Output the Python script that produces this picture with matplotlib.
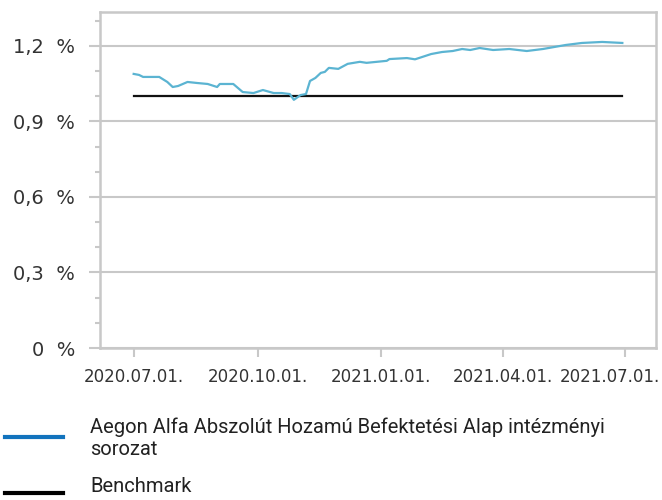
import matplotlib
matplotlib.use("Agg")
import numpy as np
import pandas as pd
import matplotlib.pyplot as plt
import matplotlib.transforms as mtransforms
from matplotlib.lines import Line2D

plt.rcParams["font.family"] = ["DejaVu Sans"]

# napi hozam adatok (leolvasva)
dates = ["2020-07-01", "2020-07-05", "2020-07-08", "2020-07-20", "2020-07-26",
         "2020-07-30", "2020-08-03", "2020-08-10", "2020-08-17", "2020-08-25",
         "2020-09-01", "2020-09-03", "2020-09-13", "2020-09-20", "2020-09-28",
         "2020-10-05", "2020-10-13", "2020-10-19", "2020-10-25", "2020-10-28",
         "2020-11-02", "2020-11-06", "2020-11-09", "2020-11-13", "2020-11-17",
         "2020-11-20", "2020-11-23", "2020-11-30", "2020-12-07", "2020-12-16",
         "2020-12-21", "2021-01-05", "2021-01-07", "2021-01-20", "2021-01-26",
         "2021-02-07", "2021-02-15", "2021-02-23", "2021-03-02", "2021-03-08",
         "2021-03-15", "2021-03-25", "2021-04-06", "2021-04-19", "2021-05-01",
         "2021-05-18", "2021-05-30", "2021-06-14", "2021-06-29"]
alap = [1.089, 1.085, 1.077, 1.077, 1.057,
        1.037, 1.041, 1.057, 1.053, 1.049,
        1.037, 1.049, 1.049, 1.017, 1.013,
        1.025, 1.013, 1.013, 1.009, 0.986,
        1.005, 1.009, 1.061, 1.073, 1.093,
        1.097, 1.113, 1.109, 1.129, 1.137,
        1.133, 1.141, 1.148, 1.152, 1.147,
        1.168, 1.176, 1.180, 1.188, 1.184,
        1.192, 1.184, 1.188, 1.180, 1.188,
        1.204, 1.212, 1.216, 1.212]
benchmark = [1.0] * len(dates)

y_ticks = [0, 0.3, 0.6, 0.9, 1.2]
y_labels = ["0  %", "0,3  %", "0,6  %", "0,9  %", "1,2  %"]
x_ticks = ["2020-07-01", "2020-10-01", "2021-01-01", "2021-04-01", "2021-07-01"]
x_labels = ["2020.07.01.", "2020.10.01.", "2021.01.01.", "2021.04.01.", "2021.07.01."]

series_names = ["Aegon Alfa Abszolút Hozamú Befektetési Alap intézményi\nsorozat",
                "Benchmark"]

W, H = 662, 500
fig = plt.figure(figsize=(W / 100, H / 100), dpi=100)
ax = fig.add_axes([100 / W, 1 - 348 / H, 556 / W, 336 / H])

d = pd.to_datetime(dates)
ax.plot(d, benchmark, color="#111111", lw=1.6, zorder=3)
ax.plot(d, alap, color="#5bb4d2", lw=1.6, zorder=4)

grid_c = "#c8c8c8"
ax.set_ylim(0, 1.335)
ax.set_xlim(pd.Timestamp("2020-06-06"), pd.Timestamp("2021-07-24"))

ax.set_yticks(y_ticks)
ax.set_yticklabels(y_labels)
ax.set_yticks(np.arange(0, 1.34, 0.1), minor=True)
ax.set_xticks(pd.to_datetime(x_ticks))
ax.set_xticklabels(x_labels)

ax.grid(axis="y", which="major", color=grid_c, lw=1.5)
ax.set_axisbelow(True)
for s in ax.spines.values():
    s.set_color(grid_c)
    s.set_linewidth(1.8)

ax.tick_params(axis="y", which="major", length=8, width=1.5, color=grid_c,
               pad=10, labelsize=14, labelcolor="#333333")
ax.tick_params(axis="y", which="minor", length=3.6, width=1.5, color=grid_c)
ax.tick_params(axis="x", which="major", length=6.5, width=1.5, color=grid_c,
               pad=8, labelsize=12, labelcolor="#333333")
ax.tick_params(axis="x", which="minor", length=0)

# utolso datum cimke beljebb huzva, hogy kiferjen
last = ax.get_xticklabels()[-1]
last.set_transform(last.get_transform() +
                   mtransforms.ScaledTranslation(-15 / 100, 0, fig.dpi_scale_trans))

# jelmagyarazat
leg_font = ["Roboto", "DejaVu Sans"]
fig.add_artist(Line2D([5 / W, 63 / W], [1 - 437 / H, 1 - 437 / H],
                      color="#1273bd", lw=3, transform=fig.transFigure))
fig.text(90 / W, 1 - 417 / H, series_names[0], family=leg_font, fontsize=14.5,
         color="#222222", va="top", linespacing=1.25)
fig.add_artist(Line2D([5 / W, 63 / W], [1 - 493 / H, 1 - 493 / H],
                      color="#000000", lw=3, transform=fig.transFigure))
fig.text(90 / W, 1 - 477 / H, series_names[1], family=leg_font, fontsize=14.5,
         color="#222222", va="top")

fig.savefig("out.png", dpi=100)
